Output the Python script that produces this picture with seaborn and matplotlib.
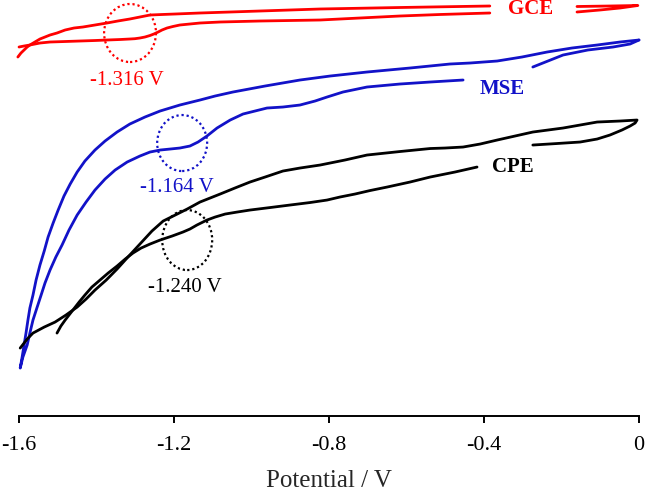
import numpy as np
import pandas as pd
import matplotlib
matplotlib.use('Agg')
import matplotlib.pyplot as plt
import seaborn as sns
from matplotlib.patches import Ellipse

# ---- data (current in arbitrary units) ----
# GCE (red): left branch A, short piece round the anodic tip, left branch B
gce_a_v = [-1.603, -1.595, -1.587, -1.579, -1.572, -1.559, -1.546, -1.533, -1.520, -1.502,
           -1.481, -1.458, -1.435, -1.404, -1.373, -1.345, -1.314, -1.288, -1.262, -1.231,
           -1.197, -1.133, -1.055, -0.978, -0.823, -0.617, -0.385]
gce_a_i = [359, 363, 366, 369, 371, 374, 377, 379, 381, 383, 386, 388, 389, 391, 393, 395,
           397, 399, 401, 401.5, 402, 403, 404, 405, 407, 408.5, 410]
gce_tip_v = [-0.160, -0.075, -0.003, -0.049, -0.101, -0.160]
gce_tip_i = [409.5, 410, 410.5, 408, 406, 404]
gce_b_v = [-0.385, -0.514, -0.617, -0.720, -0.823, -0.978, -1.081, -1.133, -1.159, -1.185,
           -1.203, -1.218, -1.231, -1.241, -1.252, -1.262, -1.275, -1.288, -1.301, -1.314,
           -1.339, -1.373, -1.404, -1.443, -1.481, -1.520, -1.546, -1.572, -1.587, -1.600]
gce_b_i = [403, 401.5, 400, 398, 396, 395, 394, 393, 392, 391, 389.5, 388, 386, 384, 382,
           380.5, 379, 378, 377.3, 377, 376.5, 376, 375.5, 375, 374.5, 374, 373, 371, 370, 369]

# MSE (blue): outer branch down to -1.6 V and back up the inner branch, then the tip piece
mse_main_v = [0.0, -0.049, -0.108, -0.173, -0.237, -0.302, -0.366, -0.436, -0.488, -0.591,
              -0.702, -0.797, -0.875, -0.965, -1.048, -1.094, -1.133, -1.185, -1.236, -1.275,
              -1.314, -1.347, -1.378, -1.404, -1.430, -1.450, -1.468, -1.484, -1.499, -1.512,
              -1.525, -1.535, -1.546, -1.556, -1.564, -1.572, -1.577, -1.582, -1.587, -1.592,
              -1.597,
              -1.590, -1.579, -1.572, -1.564, -1.554, -1.543, -1.533, -1.520, -1.505, -1.489,
              -1.471, -1.450, -1.427, -1.404, -1.378, -1.352, -1.321, -1.288, -1.262, -1.236,
              -1.210, -1.185, -1.159, -1.138, -1.115, -1.089, -1.055, -1.022, -0.991, -0.960,
              -0.919, -0.875, -0.836, -0.805, -0.764, -0.702, -0.617, -0.539, -0.454]
mse_main_i = [376, 374, 371, 368, 364, 359, 355, 353, 352, 348, 344, 340, 336, 330, 324, 320,
              316, 311, 305, 299, 292, 284, 275, 266, 255, 244, 232, 220, 206, 193, 179, 165,
              151, 136, 121, 108, 96, 83, 71, 59, 48,
              59, 71, 83, 96, 108, 121, 133, 146, 159, 171, 186, 201, 214, 226, 237, 246, 254,
              260, 264, 266, 267, 268, 270, 274, 280, 288, 296, 302, 305, 308, 309, 311, 315,
              319, 324, 329, 332, 334, 336]
mse_tip_v = [-0.274, -0.235, -0.196, -0.132, -0.067, -0.023, 0.0]
mse_tip_i = [349, 355, 361, 366, 369, 372, 376]

# CPE (black): lower branch, then tip piece plus upper branch back to -1.6 V
cpe_low_v = [-1.502, -1.492, -1.481, -1.471, -1.461, -1.445, -1.430, -1.412, -1.391, -1.370,
             -1.347, -1.326, -1.306, -1.285, -1.262, -1.236, -1.205, -1.177, -1.159, -1.141,
             -1.115, -1.094, -1.068, -1.037, -1.004, -0.952, -0.901, -0.849, -0.805, -0.772,
             -0.733, -0.694, -0.650, -0.591, -0.539, -0.475, -0.418]
cpe_low_i = [83, 90, 96, 101, 106, 114, 121, 129, 136, 143, 150, 157, 163, 168, 172, 176, 180,
             184, 187, 191, 196, 199, 202, 204, 206, 208.5, 211, 213.5, 216, 219, 222, 225.5,
             229, 234, 239, 244, 249]
cpe_up_v = [-0.274, -0.212, -0.152, -0.108, -0.075, -0.044, -0.023, -0.010, -0.005, -0.049,
            -0.108, -0.152, -0.196, -0.235, -0.274, -0.320, -0.366, -0.410, -0.454, -0.501,
            -0.539, -0.617, -0.702, -0.759, -0.823, -0.875, -0.919, -0.965, -1.004, -1.043,
            -1.081, -1.107, -1.133, -1.166, -1.197, -1.228, -1.257, -1.288, -1.319, -1.347,
            -1.375, -1.404, -1.427, -1.450, -1.479, -1.507, -1.535, -1.564, -1.579, -1.597]
cpe_up_i = [271, 272.5, 274, 277, 281, 286, 290, 293, 296, 295, 294, 291, 288, 286, 284, 280,
            276, 272, 269, 268, 267.5, 264.5, 261, 256, 251, 248, 245, 239, 234, 228, 222, 218,
            214, 207, 201, 195, 185, 172, 159, 147, 136, 126, 117, 109, 101, 94, 89, 83, 77, 68]

electrodes = ['GCE', 'MSE', 'CPE']
colors = {'GCE': '#ff0000', 'MSE': '#1212c8', 'CPE': '#000000'}

# peak markers: (centre V, centre I, width V, height I, label, label V, label I)
peaks = {
    'GCE': (-1.3135, 383, 0.134, 58, '-1.316 V', -1.321, 336),
    'MSE': (-1.179, 273, 0.129, 56, '-1.164 V', -1.192, 229),
    'CPE': (-1.166, 176, 0.129, 60, '-1.240 V', -1.172, 129),
}
name_pos = {'GCE': (-0.281, 407), 'MSE': (-0.3535, 327), 'CPE': (-0.325, 249)}

branches = [
    ('GCE', 'a', gce_a_v, gce_a_i), ('GCE', 'tip', gce_tip_v, gce_tip_i),
    ('GCE', 'b', gce_b_v, gce_b_i),
    ('MSE', 'main', mse_main_v, mse_main_i), ('MSE', 'tip', mse_tip_v, mse_tip_i),
    ('CPE', 'low', cpe_low_v, cpe_low_i), ('CPE', 'up', cpe_up_v, cpe_up_i),
]
df = pd.concat([
    pd.DataFrame({'electrode': e, 'branch': f'{e}_{b}', 'V': v, 'I': i})
    for e, b, v, i in branches
], ignore_index=True)

sns.set_theme(style='white')
plt.rcParams['font.family'] = ['Liberation Serif', 'DejaVu Serif']
plt.rcParams['axes.unicode_minus'] = False

fig = plt.figure(figsize=(6.45, 4.93), dpi=100)
ax = fig.add_axes([0.0295, 0.156, 0.9612, 0.844])

for e in electrodes:
    sns.lineplot(data=df[df.electrode == e], x='V', y='I', units='branch',
                 estimator=None, sort=False, color=colors[e], lw=2.0,
                 solid_joinstyle='round', solid_capstyle='round',
                 clip_on=False, legend=False, ax=ax)
    cx, cy, w, h, txt, tx, ty = peaks[e]
    ax.add_patch(Ellipse((cx, cy), w, h, fill=False, edgecolor=colors[e],
                         lw=1.6, linestyle=(0, (1, 1.3)), clip_on=False))
    ax.text(tx, ty, txt, color=colors[e], fontsize=15, ha='center', va='center')
    nx, ny = name_pos[e]
    ax.text(nx, ny, e, color=colors[e], fontsize=15, fontweight='bold',
            ha='center', va='center')

ax.set_xlim(-1.6, 0)
ax.set_ylim(0, 416)
ax.set_xticks([-1.6, -1.2, -0.8, -0.4, 0])
ax.set_xticklabels(['-1.6', '-1.2', '-0.8', '-0.4', '0'])
ax.set_yticks([])
for side in ['left', 'right', 'top']:
    ax.spines[side].set_visible(False)
ax.spines['bottom'].set_linewidth(1.4)
ax.spines['bottom'].set_color('black')
ax.tick_params(axis='x', direction='out', length=5, width=1.4, colors='black',
               labelsize=16, pad=9, bottom=True)
ax.set_xlabel('Potential / V', fontsize=18, labelpad=11)
ax.set_ylabel('')

fig.savefig('out.png', dpi=100)
